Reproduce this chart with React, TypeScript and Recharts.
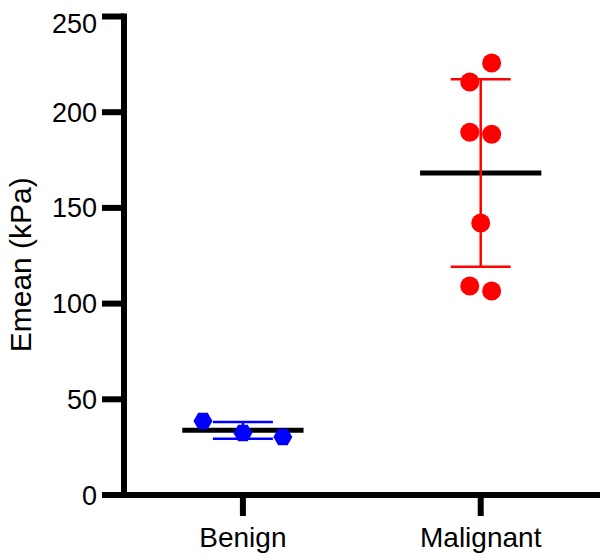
import React from 'react';
import { ScatterChart, Scatter, XAxis, YAxis, ErrorBar, ReferenceLine } from 'recharts';

const categories = ['Benign', 'Malignant'];
const categoryX = [0.5, 1.5];
const yTicks = [0, 50, 100, 150, 200, 250];

const benignX = [0.332, 0.5, 0.668];
const benignY = [38.7, 32.4, 30.3];
const malignantX = [1.546, 1.454, 1.454, 1.546, 1.5, 1.454, 1.546];
const malignantY = [225.7, 215.8, 189.5, 188.5, 142.1, 109.2, 106.6];

const mean = (a: number[]) => a.reduce((s, v) => s + v, 0) / a.length;
const sd = (a: number[]) => {
  const m = mean(a);
  return Math.sqrt(a.reduce((s, v) => s + (v - m) * (v - m), 0) / (a.length - 1));
};

const benignData = benignX.map((x, i) => ({ x, y: benignY[i] }));
const malignantData = malignantX.map((x, i) => ({ x, y: malignantY[i] }));
const benignSummary = [{ x: categoryX[0], y: mean(benignY), err: sd(benignY) }];
const malignantSummary = [{ x: categoryX[1], y: mean(malignantY), err: sd(malignantY) }];

const FONT = '"Liberation Sans", Arial, Helvetica, sans-serif';
const HALF_MEAN = 0.255;

const Hexagon = (props: any) => {
  const { cx, cy } = props;
  const r = 9.5;
  const pts = [0, 60, 120, 180, 240, 300]
    .map((a) => {
      const rad = (a * Math.PI) / 180;
      return `${cx + r * Math.cos(rad)},${cy + r * Math.sin(rad)}`;
    })
    .join(' ');
  return <polygon points={pts} fill="#0000ff" />;
};

const Dot = (props: any) => <circle cx={props.cx} cy={props.cy} r={9.5} fill="#ff0000" />;
const Empty = () => <g />;

const YLabel = (props: any) => {
  const { x, y, height } = props.viewBox;
  const cx = x + 23;
  const cy = y + height / 2 + 9;
  return (
    <text
      x={cx}
      y={cy}
      transform={`rotate(-90 ${cx} ${cy})`}
      textAnchor="middle"
      fontSize={30}
      fontFamily={FONT}
      fill="#000"
    >
      Emean (kPa)
    </text>
  );
};

export default function App() {
  const axisLine = { stroke: '#000', strokeWidth: 6, strokeLinecap: 'square' as const };
  const tickLine = { stroke: '#000', strokeWidth: 6 };
  return (
    <ScatterChart width={600} height={552} margin={{ top: 8.5, right: 6, bottom: 0, left: 0 }}>
      <XAxis
        type="number"
        dataKey="x"
        domain={[0, 2.01]}
        ticks={categoryX}
        tickFormatter={(v: number) => categories[categoryX.indexOf(v)] ?? ''}
        axisLine={axisLine}
        tickLine={tickLine}
        tickSize={21}
        tickMargin={11}
        height={65}
        tick={{ fill: '#000', fontSize: 28, fontFamily: FONT }}
        allowDataOverflow
      />
      <YAxis
        type="number"
        dataKey="y"
        domain={[0, 250]}
        ticks={yTicks}
        axisLine={axisLine}
        tickLine={tickLine}
        tickSize={22}
        tickMargin={5}
        width={116}
        tick={{ fill: '#000', fontSize: 27, fontFamily: FONT }}
        label={{ content: YLabel }}
        allowDataOverflow
      />
      <ReferenceLine
        segment={[
          { x: categoryX[0] - HALF_MEAN, y: benignSummary[0].y },
          { x: categoryX[0] + HALF_MEAN, y: benignSummary[0].y },
        ]}
        stroke="#000"
        strokeWidth={5}
      />
      <ReferenceLine
        segment={[
          { x: categoryX[1] - HALF_MEAN, y: malignantSummary[0].y },
          { x: categoryX[1] + HALF_MEAN, y: malignantSummary[0].y },
        ]}
        stroke="#000"
        strokeWidth={5}
      />
      <Scatter data={benignSummary} shape={Empty} isAnimationActive={false}>
        <ErrorBar dataKey="err" direction="y" width={30} stroke="#0000ff" strokeWidth={2.5} />
      </Scatter>
      <Scatter data={malignantSummary} shape={Empty} isAnimationActive={false}>
        <ErrorBar dataKey="err" direction="y" width={30} stroke="#ff0000" strokeWidth={2.5} />
      </Scatter>
      <Scatter data={benignData} shape={Hexagon} isAnimationActive={false} />
      <Scatter data={malignantData} shape={Dot} isAnimationActive={false} />
    </ScatterChart>
  );
}
